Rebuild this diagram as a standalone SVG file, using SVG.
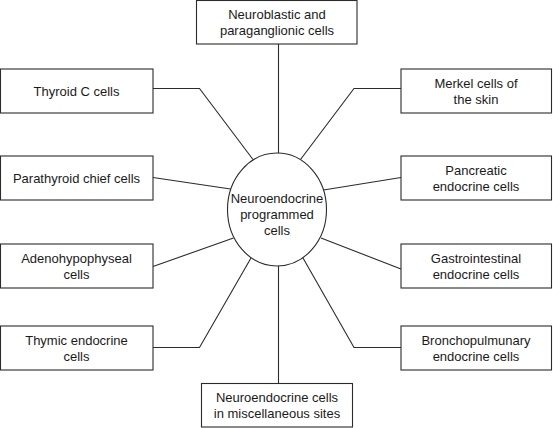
<svg xmlns="http://www.w3.org/2000/svg" width="553" height="428" viewBox="0 0 553 428">
<style>
.box{fill:#fff;stroke:#2b2b2b;stroke-width:1.1}
.hub{fill:#fff;stroke:#2b2b2b;stroke-width:1.1}
.con{fill:none;stroke:#2b2b2b;stroke-width:1.1}
text{font-family:"Liberation Sans",Arial,Helvetica,sans-serif;font-size:13px;fill:#1a1a1a;text-anchor:middle}
</style>
<rect width="553" height="428" fill="#fff"/>
<g id="connectors">
<path class="con" d="M278.5,44 V153"/>
<path class="con" d="M153,88.5 H199.5 L253,159.5"/>
<path class="con" d="M401,88.5 H354 L300.5,159.5"/>
<path class="con" d="M153,177.5 L230.5,189"/>
<path class="con" d="M401,177.5 L323.5,190"/>
<path class="con" d="M153,266.5 L233.5,238"/>
<path class="con" d="M401,269 L321,238"/>
<path class="con" d="M153,347.5 H199.5 L251,258"/>
<path class="con" d="M401,347.5 H354 L303,258"/>
<path class="con" d="M278.5,266 V383.5"/>
</g>
<g id="hub">
<ellipse class="hub" cx="277" cy="209.5" rx="49.5" ry="56.5"/>
<text x="277" y="202.7">Neuroendocrine</text>
<text x="277" y="218.7">programmed</text>
<text x="277" y="234.7">cells</text>
</g>
<g id="neuroblastic">
<rect class="box" x="196.5" y="0.5" width="160.5" height="43.5"/>
<text x="277" y="18.7">Neuroblastic and</text>
<text x="277" y="34.7">paraganglionic cells</text>
</g>
<g id="thyroid">
<rect class="box" x="0.5" y="69" width="152.5" height="44"/>
<text x="76.5" y="95.7">Thyroid C cells</text>
</g>
<g id="merkel">
<rect class="box" x="401" y="69" width="150.5" height="44"/>
<text x="476" y="87.7">Merkel cells of</text>
<text x="476" y="103.7">the skin</text>
</g>
<g id="parathyroid">
<rect class="box" x="0.5" y="156" width="152.5" height="44"/>
<text x="76.5" y="182.7">Parathyroid chief cells</text>
</g>
<g id="pancreatic">
<rect class="box" x="401" y="156" width="150.5" height="44"/>
<text x="476" y="174.7">Pancreatic</text>
<text x="476" y="190.7">endocrine cells</text>
</g>
<g id="adenohypophyseal">
<rect class="box" x="0.5" y="244" width="152.5" height="44"/>
<text x="76.5" y="262.7">Adenohypophyseal</text>
<text x="76.5" y="278.7">cells</text>
</g>
<g id="gastrointestinal">
<rect class="box" x="401" y="244" width="150.5" height="44"/>
<text x="476" y="262.7">Gastrointestinal</text>
<text x="476" y="278.7">endocrine cells</text>
</g>
<g id="thymic">
<rect class="box" x="0.5" y="326" width="152.5" height="44"/>
<text x="76.5" y="344.7">Thymic endocrine</text>
<text x="76.5" y="360.7">cells</text>
</g>
<g id="bronchopulmunary">
<rect class="box" x="401" y="326" width="150.5" height="44"/>
<text x="476" y="344.7">Bronchopulmunary</text>
<text x="476" y="360.7">endocrine cells</text>
</g>
<g id="miscellaneous">
<rect class="box" x="201.5" y="383.5" width="151" height="43.5"/>
<text x="277" y="401.7">Neuroendocrine cells</text>
<text x="277" y="417.7">in miscellaneous sites</text>
</g>
</svg>
